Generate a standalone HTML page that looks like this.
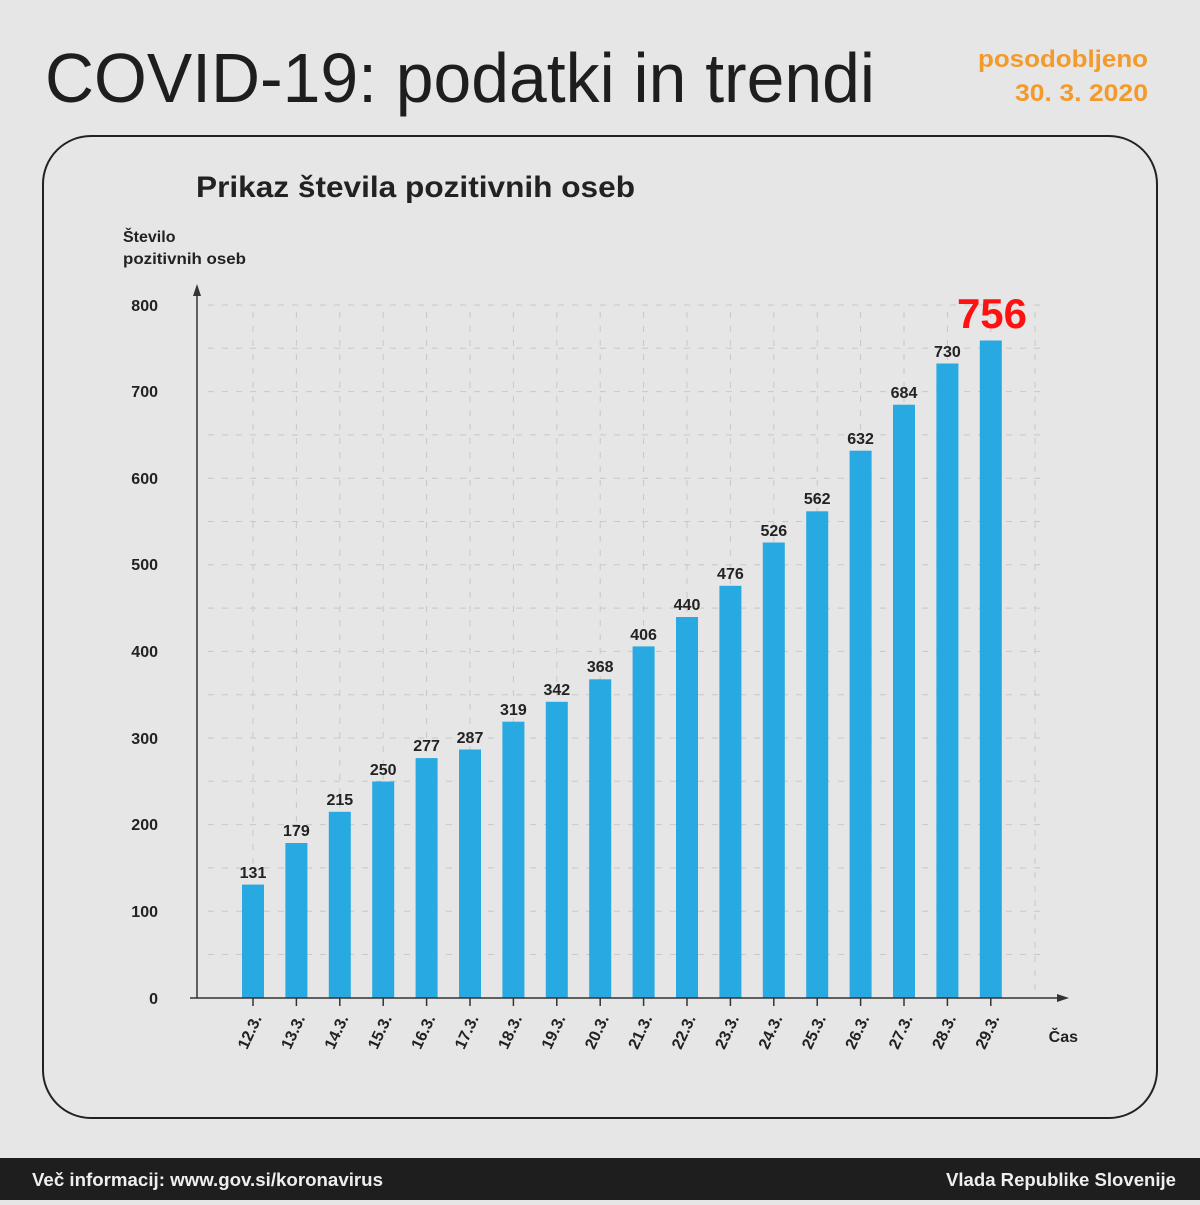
<!DOCTYPE html>
<html><head><meta charset="utf-8"><style>
body{margin:0;width:1200px;height:1200px;background:#e6e6e6;overflow:hidden;font-family:"Liberation Sans",sans-serif}
</style></head><body>
<svg width="1200" height="1200" xmlns="http://www.w3.org/2000/svg" font-family="Liberation Sans, sans-serif">
<rect width="1200" height="1200" fill="#e6e6e6"/>
<text x="45" y="102" font-size="70" fill="#1e1e1e" textLength="830" lengthAdjust="spacingAndGlyphs">COVID-19: podatki in trendi</text>
<text x="1148" y="67" font-size="24" font-weight="bold" fill="#f39a2b" text-anchor="end" textLength="170" lengthAdjust="spacingAndGlyphs">posodobljeno</text>
<text x="1148" y="101" font-size="24" font-weight="bold" fill="#f39a2b" text-anchor="end" textLength="133" lengthAdjust="spacingAndGlyphs">30. 3. 2020</text>
<rect x="43" y="136" width="1114" height="982" rx="48" fill="none" stroke="#222" stroke-width="2"/>
<text x="196" y="197" font-size="30" font-weight="bold" fill="#222" textLength="439" lengthAdjust="spacingAndGlyphs">Prikaz števila pozitivnih oseb</text>
<text x="123" y="242" font-size="16" font-weight="bold" fill="#222">Število</text>
<text x="123" y="264" font-size="16" font-weight="bold" fill="#222" textLength="123" lengthAdjust="spacingAndGlyphs">pozitivnih oseb</text>
<g stroke="#c8c8c8" stroke-width="1" stroke-dasharray="6,8">
<line x1="208" x2="1045" y1="305" y2="305"/><line x1="208" x2="1045" y1="348.3" y2="348.3"/><line x1="208" x2="1045" y1="391.6" y2="391.6"/><line x1="208" x2="1045" y1="434.9" y2="434.9"/><line x1="208" x2="1045" y1="478.2" y2="478.2"/><line x1="208" x2="1045" y1="521.5" y2="521.5"/><line x1="208" x2="1045" y1="564.8" y2="564.8"/><line x1="208" x2="1045" y1="608.1" y2="608.1"/><line x1="208" x2="1045" y1="651.4" y2="651.4"/><line x1="208" x2="1045" y1="694.7" y2="694.7"/><line x1="208" x2="1045" y1="738" y2="738"/><line x1="208" x2="1045" y1="781.3" y2="781.3"/><line x1="208" x2="1045" y1="824.6" y2="824.6"/><line x1="208" x2="1045" y1="867.9" y2="867.9"/><line x1="208" x2="1045" y1="911.2" y2="911.2"/><line x1="208" x2="1045" y1="954.5" y2="954.5"/>
<line x1="253" x2="253" y1="312" y2="998"/><line x1="296.4" x2="296.4" y1="312" y2="998"/><line x1="339.8" x2="339.8" y1="312" y2="998"/><line x1="383.2" x2="383.2" y1="312" y2="998"/><line x1="426.6" x2="426.6" y1="312" y2="998"/><line x1="470" x2="470" y1="312" y2="998"/><line x1="513.4" x2="513.4" y1="312" y2="998"/><line x1="556.8" x2="556.8" y1="312" y2="998"/><line x1="600.2" x2="600.2" y1="312" y2="998"/><line x1="643.6" x2="643.6" y1="312" y2="998"/><line x1="687" x2="687" y1="312" y2="998"/><line x1="730.4" x2="730.4" y1="312" y2="998"/><line x1="773.8" x2="773.8" y1="312" y2="998"/><line x1="817.2" x2="817.2" y1="312" y2="998"/><line x1="860.6" x2="860.6" y1="312" y2="998"/><line x1="904" x2="904" y1="312" y2="998"/><line x1="947.4" x2="947.4" y1="312" y2="998"/><line x1="990.8" x2="990.8" y1="312" y2="998"/><line x1="1035" x2="1035" y1="312" y2="998"/>
</g>
<g fill="#29a9e1">
<rect x="242" y="884.6" width="22" height="113.4"/><rect x="285.4" y="843" width="22" height="155"/><rect x="328.8" y="811.8" width="22" height="186.2"/><rect x="372.2" y="781.5" width="22" height="216.5"/><rect x="415.6" y="758.1" width="22" height="239.9"/><rect x="459" y="749.5" width="22" height="248.5"/><rect x="502.4" y="721.7" width="22" height="276.3"/><rect x="545.8" y="701.8" width="22" height="296.2"/><rect x="589.2" y="679.3" width="22" height="318.7"/><rect x="632.6" y="646.4" width="22" height="351.6"/><rect x="676" y="617" width="22" height="381"/><rect x="719.4" y="585.8" width="22" height="412.2"/><rect x="762.8" y="542.5" width="22" height="455.5"/><rect x="806.2" y="511.3" width="22" height="486.7"/><rect x="849.6" y="450.7" width="22" height="547.3"/><rect x="893" y="404.7" width="22" height="593.3"/><rect x="936.4" y="363.5" width="22" height="634.5"/><rect x="979.8" y="340.5" width="22" height="657.5"/>
</g>
<g font-size="16" font-weight="bold" fill="#222" text-anchor="middle">
<text x="253" y="878">131</text><text x="296.4" y="836">179</text><text x="339.8" y="805">215</text><text x="383.2" y="775">250</text><text x="426.6" y="751">277</text><text x="470" y="743">287</text><text x="513.4" y="715">319</text><text x="556.8" y="695">342</text><text x="600.2" y="672">368</text><text x="643.6" y="640">406</text><text x="687" y="610">440</text><text x="730.4" y="579">476</text><text x="773.8" y="536">526</text><text x="817.2" y="504">562</text><text x="860.6" y="444">632</text><text x="904" y="398">684</text><text x="947.4" y="357">730</text>
<text x="992" y="328" font-size="42" fill="#ff1111">756</text>
</g>
<g stroke="#333" stroke-width="1.5" fill="none">
<line x1="197" y1="290" x2="197" y2="998"/><line x1="190" y1="998" x2="1062" y2="998"/>
</g>
<path d="M197 284 L193 296 L201 296Z" fill="#333"/><path d="M1069 998 L1057 994 L1057 1002Z" fill="#333"/>
<g stroke="#333" stroke-width="1.5">
<line x1="253" x2="253" y1="998" y2="1006"/><line x1="296.4" x2="296.4" y1="998" y2="1006"/><line x1="339.8" x2="339.8" y1="998" y2="1006"/><line x1="383.2" x2="383.2" y1="998" y2="1006"/><line x1="426.6" x2="426.6" y1="998" y2="1006"/><line x1="470" x2="470" y1="998" y2="1006"/><line x1="513.4" x2="513.4" y1="998" y2="1006"/><line x1="556.8" x2="556.8" y1="998" y2="1006"/><line x1="600.2" x2="600.2" y1="998" y2="1006"/><line x1="643.6" x2="643.6" y1="998" y2="1006"/><line x1="687" x2="687" y1="998" y2="1006"/><line x1="730.4" x2="730.4" y1="998" y2="1006"/><line x1="773.8" x2="773.8" y1="998" y2="1006"/><line x1="817.2" x2="817.2" y1="998" y2="1006"/><line x1="860.6" x2="860.6" y1="998" y2="1006"/><line x1="904" x2="904" y1="998" y2="1006"/><line x1="947.4" x2="947.4" y1="998" y2="1006"/><line x1="990.8" x2="990.8" y1="998" y2="1006"/>
</g>
<g font-size="16" font-weight="bold" fill="#222" text-anchor="end">
<text x="158" y="311">800</text><text x="158" y="397">700</text><text x="158" y="484">600</text><text x="158" y="570">500</text><text x="158" y="657">400</text><text x="158" y="744">300</text><text x="158" y="830">200</text><text x="158" y="917">100</text><text x="158" y="1004">0</text>
<text transform="translate(262,1018) rotate(-65)">12.3.</text><text transform="translate(305.4,1018) rotate(-65)">13.3.</text><text transform="translate(348.8,1018) rotate(-65)">14.3.</text><text transform="translate(392.2,1018) rotate(-65)">15.3.</text><text transform="translate(435.6,1018) rotate(-65)">16.3.</text><text transform="translate(479,1018) rotate(-65)">17.3.</text><text transform="translate(522.4,1018) rotate(-65)">18.3.</text><text transform="translate(565.8,1018) rotate(-65)">19.3.</text><text transform="translate(609.2,1018) rotate(-65)">20.3.</text><text transform="translate(652.6,1018) rotate(-65)">21.3.</text><text transform="translate(696,1018) rotate(-65)">22.3.</text><text transform="translate(739.4,1018) rotate(-65)">23.3.</text><text transform="translate(782.8,1018) rotate(-65)">24.3.</text><text transform="translate(826.2,1018) rotate(-65)">25.3.</text><text transform="translate(869.6,1018) rotate(-65)">26.3.</text><text transform="translate(913,1018) rotate(-65)">27.3.</text><text transform="translate(956.4,1018) rotate(-65)">28.3.</text><text transform="translate(999.8,1018) rotate(-65)">29.3.</text>
<text x="1078" y="1042">Čas</text>
</g>
<rect x="0" y="1158" width="1200" height="42" fill="#1e1e1e"/>
<text x="32" y="1186" font-size="18" font-weight="bold" fill="#eee" textLength="351" lengthAdjust="spacingAndGlyphs">Več informacij: www.gov.si/koronavirus</text>
<text x="1176" y="1186" font-size="18" font-weight="bold" fill="#eee" text-anchor="end" textLength="230" lengthAdjust="spacingAndGlyphs">Vlada Republike Slovenije</text>
</svg>
</body></html>
